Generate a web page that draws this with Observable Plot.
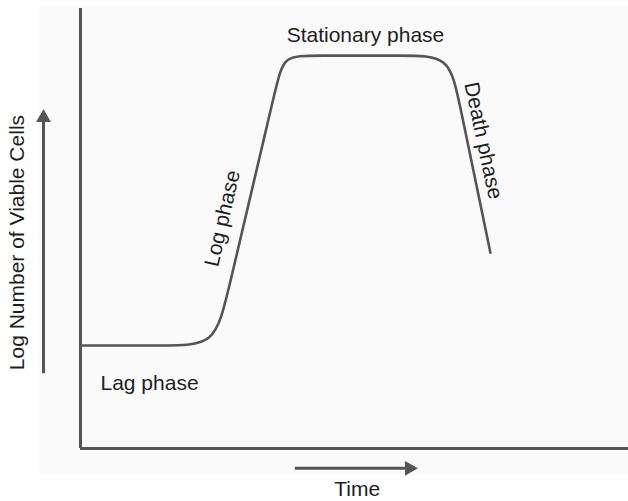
<!DOCTYPE html>
<html>
<head>
<meta charset="utf-8">
<script src="https://cdn.jsdelivr.net/npm/d3@7"></script>
<script src="https://cdn.jsdelivr.net/npm/@observablehq/plot@0.6"></script>
<style>
  html, body { margin: 0; padding: 0; background: #ffffff; }
  #chart { width: 628px; height: 501px; }
</style>
</head>
<body>
<div id="chart"></div>
<script>
// Growth curve control points (time, log viable cells), rounded with a B-spline
const curveTime  = [0, 15.5, 24.6, 26.7, 35.8, 37.0, 42.5, 59.3, 67.3, 69.0, 74.8];
const curveCells = [23.4, 23.4, 23.4, 34.5, 82.7, 89.3, 89.3, 89.3, 89.3, 79.5, 44.5];

// Phase labels
const phaseNames  = ["Stationary phase", "Log phase", "Death phase", "Lag phase"];
const phaseTime   = [52.0, 25.9, 73.5, 12.6];
const phaseCells  = [93.9, 52.3, 70.0, 14.8];
const phaseRotate = [0, -77, 78, 0];

// Axis titles
const xTitle = "Time";
const yTitle = "Log Number of Viable Cells";

// Direction arrows
const timeArrowX = [39.2, 61.1];
const timeArrowY = -4.5;
const cellArrowX = -6.75;
const cellArrowY = [17.0, 76.4];

const curve = curveTime.map((t, i) => ({t, v: curveCells[i]}));
const labels = phaseNames.map((name, i) => ({name, t: phaseTime[i], v: phaseCells[i], r: phaseRotate[i]}));

const ink = "#555555";
const textInk = "#1e1e1e";

const chart = Plot.plot({
  width: 628,
  height: 501,
  marginLeft: 80,
  marginRight: 0,
  marginTop: 8,
  marginBottom: 53,
  style: {fontFamily: "'Liberation Sans', Arial, sans-serif", background: "#ffffff"},
  x: {domain: [0, 100], axis: null},
  y: {domain: [0, 100], axis: null},
  marks: [
    Plot.rect([{x1: -7.5, x2: 100, y1: -5.7, y2: 100.2}], {x1: "x1", x2: "x2", y1: "y1", y2: "y2", fill: "#fafafa"}),
    Plot.ruleX([0], {y1: 0, y2: 100, stroke: ink, strokeWidth: 3}),
    Plot.ruleY([0], {x1: 0, x2: 100, stroke: ink, strokeWidth: 3}),
    Plot.line(curve, {x: "t", y: "v", curve: "basis", stroke: ink, strokeWidth: 2.6}),
    Plot.text(labels, {x: "t", y: "v", text: "name", rotate: "r", fontSize: 21, fill: textInk, textAnchor: "middle", lineAnchor: "middle"}),
    // y direction arrow
    Plot.ruleX([cellArrowX], {y1: cellArrowY[0], y2: cellArrowY[1] - 1.5, stroke: ink, strokeWidth: 3}),
    Plot.dot([{x: cellArrowX, y: cellArrowY[1] - 1.2}], {x: "x", y: "y", symbol: "triangle", r: 5.5, fill: ink, stroke: "none"}),
    // x direction arrow
    Plot.ruleY([timeArrowY], {x1: timeArrowX[0], x2: timeArrowX[1] - 1.5, stroke: ink, strokeWidth: 3}),
    Plot.dot([{x: timeArrowX[1] - 1.1, y: timeArrowY}], {x: "x", y: "y", symbol: "triangle", r: 5.5, rotate: 90, fill: ink, stroke: "none"}),
    // axis titles
    Plot.text([xTitle], {x: 50.5, y: -9.3, text: d => d, fontSize: 21, fill: textInk, lineAnchor: "middle"}),
    Plot.text([yTitle], {x: -11.5, y: 46.8, text: d => d, rotate: -90, fontSize: 21, fill: textInk, lineAnchor: "middle"})
  ]
});
document.getElementById("chart").appendChild(chart);
</script>
</body>
</html>
